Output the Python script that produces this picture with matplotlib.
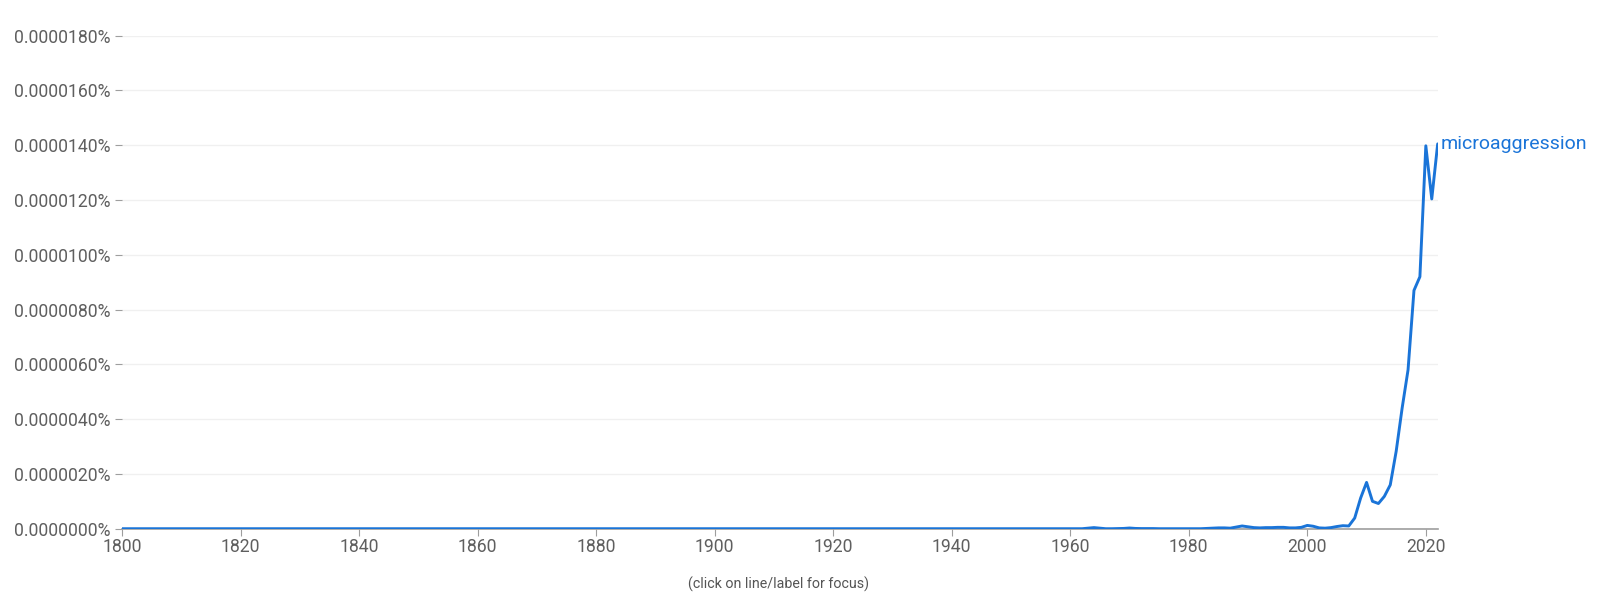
import numpy as np
import matplotlib.pyplot as plt
from matplotlib.ticker import FuncFormatter

plt.rcParams['font.family'] = ['Roboto', 'DejaVu Sans']

# word frequency, in units of 0.0000001 %
years = list(range(1800, 2023))
early = [0.0] * 160  # 1800-1959, flat zero
late = [0.0, 0.0, 0.0, 0.2, 0.4, 0.2, 0.0, 0.0, 0.05, 0.1,   # 1960s
        0.25, 0.1, 0.05, 0.05, 0.05, 0.0, 0.0, 0.0, 0.0, 0.0,  # 1970s
        0.0, 0.0, 0.0, 0.1, 0.2, 0.3, 0.3, 0.2, 0.6, 1.0,      # 1980s
        0.7, 0.4, 0.3, 0.4, 0.4, 0.5, 0.5, 0.3, 0.3, 0.5,      # 1990s
        1.2, 0.9, 0.3, 0.2, 0.4, 0.8, 1.1, 1.0, 3.9, 11.2,     # 2000s
        16.9, 10.0, 9.2, 11.8, 16.0, 28.3, 44.0, 58.0, 87.0, 92.0,  # 2010s
        139.8, 120.4, 140.5]
values = early + late
word = "microaggression"

line_color = "#1a74d8"
text_gray = "#5f5f5f"

fig = plt.figure(figsize=(16, 6.03), dpi=100)
ax = fig.add_axes([0.07625, 0.1232, 0.8223, 0.8176])

vals = np.array(values) * 1e-7
ax.plot(years, vals, color=line_color, lw=2.1, solid_capstyle='round',
        solid_joinstyle='round', zorder=3)
ax.text(years[-1] + 0.5, vals[-1], word, color=line_color, fontsize=14,
        va='center', ha='left')

ax.set_xlim(1800, 2022)
ax.set_ylim(0, 0.0000180)
ax.set_xticks(range(1800, 2021, 20))
ax.set_yticks(np.arange(0, 0.0000181, 0.0000020))
ax.yaxis.set_major_formatter(FuncFormatter(lambda v, p: "{:.7f}%".format(v)))

ax.grid(axis='y', color='#f0f0f0', lw=1)
ax.set_axisbelow(True)
for s in ['top', 'right', 'left']:
    ax.spines[s].set_visible(False)
ax.spines['bottom'].set_color('#9e9e9e')
ax.spines['bottom'].set_linewidth(1.2)

ax.tick_params(axis='y', length=5, color='#9e9e9e', labelcolor=text_gray,
               labelsize=12.7, pad=3)
ax.tick_params(axis='x', length=5, color='#9e9e9e', labelcolor=text_gray,
               labelsize=12.7, pad=2)

fig.text(778 / 1600, 1 - 584 / 603, "(click on line/label for focus)",
         ha='center', va='center', fontsize=10.3, color='#555555')

fig.savefig("out.png", dpi=100)
